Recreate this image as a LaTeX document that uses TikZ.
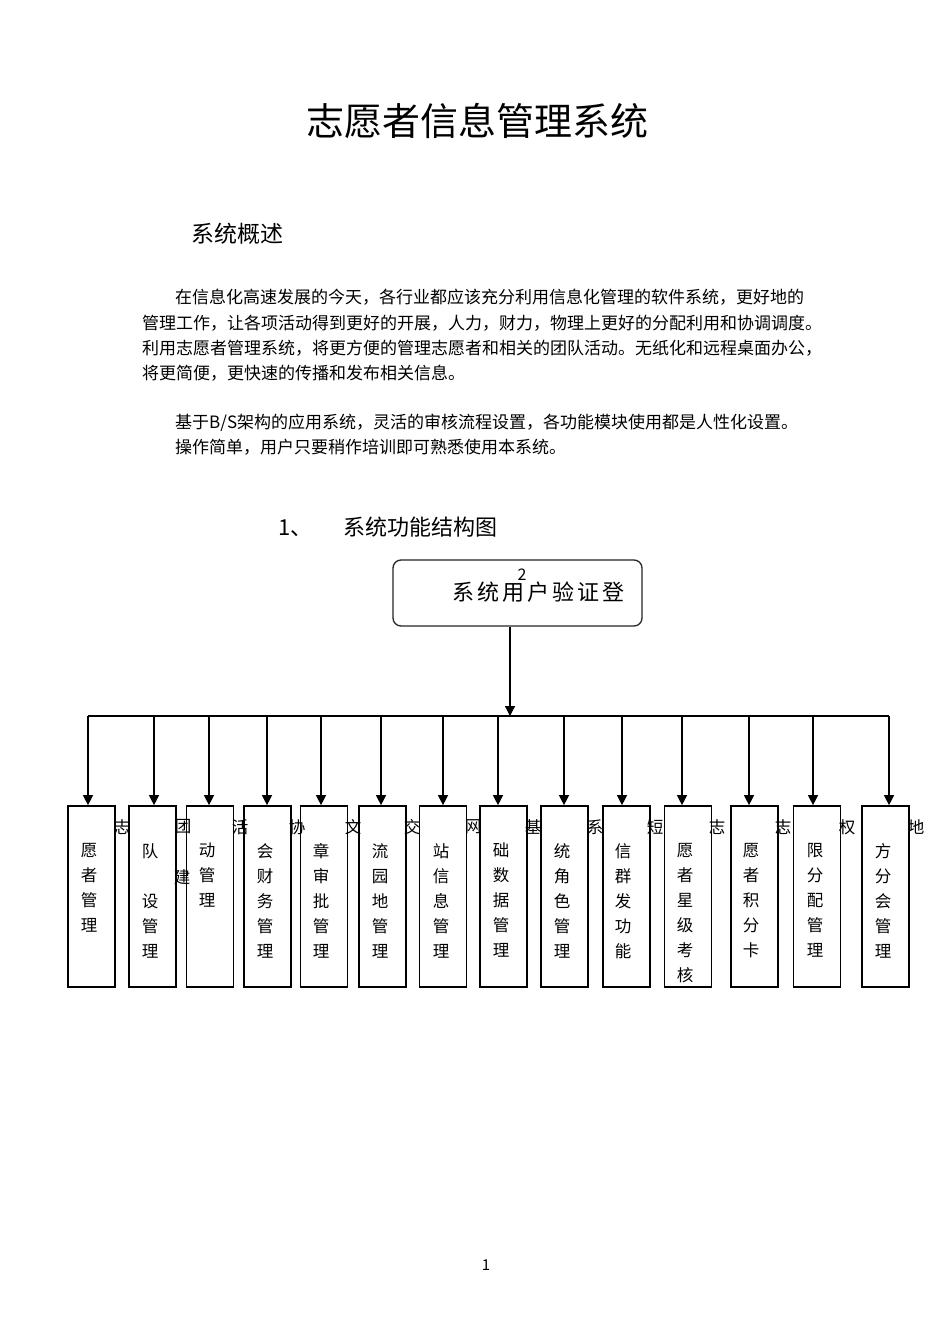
\documentclass[tikz,border=0pt]{standalone}
\usepackage{fontspec}
\setmainfont{Noto Sans CJK SC}
\usetikzlibrary{arrows.meta}
\begin{document}
\begin{tikzpicture}[x=1pt,y=-1pt,
  modbox/.style={draw, line width=1.7pt, minimum width=47pt, minimum height=181pt, inner sep=0pt},
  arr/.style={-{Triangle[width=10pt,length=10pt]}, line width=1.3pt},
  para/.style={anchor=base west, inner sep=0pt, font=\fontsize{17}{20}\selectfont},
  boxtxt/.style={anchor=north, align=center, inner sep=0pt, font=\fontsize{16.5}{25}\selectfont},
  stray/.style={inner sep=0pt, font=\fontsize{16.5}{20}\selectfont}]
\useasboundingbox[fill=white] (0,0) rectangle (950,1344);

% title and text
\node[anchor=base west, inner sep=0pt, font=\fontsize{38}{40}\selectfont] (title) at (306,135) {志愿者信息管理系统};
\node[anchor=base west, inner sep=0pt, font=\fontsize{23}{25}\selectfont] (sec) at (191,242) {系统概述};
\node[para] (p1) at (175,303) {在信息化高速发展的今天，各行业都应该充分利用信息化管理的软件系统，更好地的};
\node[para] (p2) at (142,329) {管理工作，让各项活动得到更好的开展，人力，财力，物理上更好的分配利用和协调调度。};
\node[para] (p3) at (142,354) {利用志愿者管理系统，将更方便的管理志愿者和相关的团队活动。无纸化和远程桌面办公，};
\node[para] (p4) at (142,379) {将更简便，更快速的传播和发布相关信息。};
\node[para] (p5) at (175,428) {基于B/S架构的应用系统，灵活的审核流程设置，各功能模块使用都是人性化设置。};
\node[para] (p6) at (175,453) {操作简单，用户只要稍作培训即可熟悉使用本系统。};
\node[anchor=base west, inner sep=0pt, font=\fontsize{22}{24}\selectfont] (h1n) at (278,535) {1、};
\node[anchor=base west, inner sep=0pt, font=\fontsize{22}{24}\selectfont] (h1) at (343,535) {系统功能结构图};

% top box
\node[draw=black!85, rounded corners=8pt, line width=1.3pt, minimum width=249pt, minimum height=66pt, inner sep=0pt] (top) at (517.5,593) {};
\node[anchor=base west, inner sep=0pt, font=\fontsize{22}{24}\selectfont] (toptxt) at (452,600) {系\hspace{3pt}统\hspace{3pt}用\hspace{3pt}户\hspace{3pt}验\hspace{3pt}证\hspace{3pt}登};
\node[inner sep=0pt, font=\fontsize{16}{17}\selectfont] (two) at (522,575) {2};

% module boxes
\node[modbox] (b1) at (91.5,896.5) {};
\node[modbox] (b2) at (152.5,896.5) {};
\node[modbox] (b3) at (210,896.5) {};
\node[modbox] (b4) at (267.5,896.5) {};
\node[modbox] (b5) at (324,896.5) {};
\node[modbox] (b6) at (382.5,896.5) {};
\node[modbox] (b7) at (443,896.5) {};
\node[modbox] (b8) at (503.5,896.5) {};
\node[modbox] (b9) at (564.5,896.5) {};
\node[modbox] (b10) at (626.5,896.5) {};
\node[modbox] (b11) at (688,896.5) {};
\node[modbox] (b12) at (754.5,896.5) {};
\node[modbox] (b13) at (817,896.5) {};
\node[modbox] (b14) at (885.5,896.5) {};

% box texts
\node[boxtxt] (t1) at (89,843) {愿\\者\\管\\理};
\node[boxtxt] (t2) at (150,843) {队\\\mbox{}\\设\\管\\理};
\node[boxtxt] (t3) at (207,843) {动\\管\\理};
\node[boxtxt] (t4) at (265,843) {会\\财\\务\\管\\理};
\node[boxtxt] (t5) at (321,843) {章\\审\\批\\管\\理};
\node[boxtxt] (t6) at (380,843) {流\\园\\地\\管\\理};
\node[boxtxt] (t7) at (441,843) {站\\信\\息\\管\\理};
\node[boxtxt] (t8) at (501,843) {础\\数\\据\\管\\理};
\node[boxtxt] (t9) at (562,843) {统\\角\\色\\管\\理};
\node[boxtxt] (t10) at (623,843) {信\\群\\发\\功\\能};
\node[boxtxt] (t11) at (685,843) {愿\\者\\星\\级\\考\\核};
\node[boxtxt] (t12) at (751,843) {愿\\者\\积\\分\\卡};
\node[boxtxt] (t13) at (815,843) {限\\分\\配\\管\\理};
\node[boxtxt] (t14) at (883,843) {方\\分\\会\\管\\理};

% stray characters
\node[stray] (s1) at (122,827) {志};
\node[stray] (s2) at (183,827) {团};
\node[stray] (s3) at (240,827) {活};
\node[stray] (s4) at (297,827) {协};
\node[stray] (s5) at (353,827) {文};
\node[stray] (s6) at (412,827) {交};
\node[stray] (s7) at (473,827) {网};
\node[stray] (s8) at (533,827) {基};
\node[stray] (s9) at (595,827) {系};
\node[stray] (s10) at (655,827) {短};
\node[stray] (s11) at (717,827) {志};
\node[stray] (s12) at (783,827) {志};
\node[stray] (s13) at (847,827) {权};
\node[stray] (s14) at (916,827) {地};
\node[stray] (s15) at (182,877) {建};

% connectors
\coordinate (m) at (510,716);
\coordinate (busL) at (88,716);
\coordinate (busR) at (889,716);
\draw[arr] (top.south -| m) -- (m);
\draw[line width=1.3pt] (busL) -- (busR);
\foreach \i/\x in {1/88,2/154,3/209,4/267,5/321,6/381,7/443,8/498,9/564,10/622,11/682,12/749,13/813,14/889}{
  \coordinate (a\i) at (\x,716);
  \draw[arr] (a\i) -- (a\i |- b\i.north);
}

% page number
\node[inner sep=0pt, font=\fontsize{15}{16}\selectfont] (pg) at (486,1265) {1};
\end{tikzpicture}
\end{document}
